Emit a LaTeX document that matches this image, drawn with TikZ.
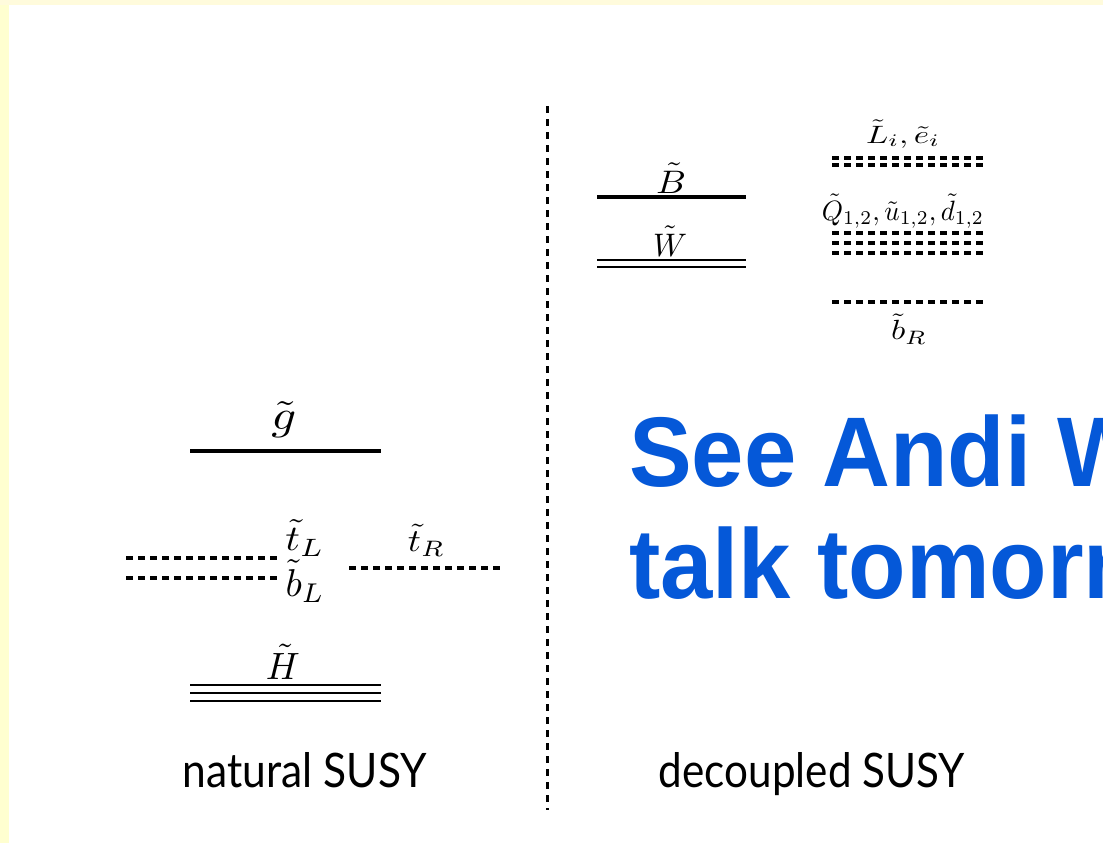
\documentclass[tikz,border=0pt]{standalone}
\usepackage{fontspec}
\usepackage{graphicx}
\setmainfont{Lato}
\newfontfamily\bluefont{Liberation Sans}
\definecolor{slideblue}{RGB}{5,88,216}
\definecolor{bandtop}{RGB}{255,251,220}
\definecolor{bandleft}{RGB}{255,255,208}
\newcommand\mlbl[3]{\resizebox*{#1}{#2}{$#3$}}
\tikzset{
  level/.style={line width=3.2pt},
  thinlevel/.style={line width=2.8pt},
  sqline/.style={line width=3.2pt, dash pattern=on 7.2pt off 4.8pt},
  divider/.style={line width=3pt, dash pattern=on 7pt off 6pt},
  lbl/.style={inner sep=0pt, anchor=center},
  caption/.style={inner sep=0pt, anchor=base},
  bluetext/.style={inner sep=0pt, anchor=base west, text=slideblue,
     font=\bluefont\bfseries\fontsize{99}{112}\selectfont}
}
\begin{document}
\begin{tikzpicture}[x=1pt,y=-1pt]
\useasboundingbox (0,0) rectangle (1103,843);
\clip (0,0) rectangle (1103,843);
\fill[white] (0,0) rectangle (1103,843);
\fill[bandtop] (0,0) rectangle (1103,5);
\fill[bandleft] (0,5) rectangle (9,843);

% divider
\draw[divider] (547,106) -- (547,810);

% natural SUSY side
\draw[level] (190,451) -- (381,451);
\node[lbl] (gl) at (284,420) {\mlbl{25pt}{36pt}{\tilde g}};
\draw[sqline] (126,558) -- (278,558);
\draw[sqline] (126,578) -- (278,578);
\node[lbl] (tL) at (305,538) {\mlbl{39pt}{36pt}{\tilde t_L}};
\node[lbl] (bL) at (305,581) {\mlbl{39pt}{42pt}{\tilde b_L}};
\draw[sqline] (349,568) -- (500,568);
\node[lbl] (tR) at (426.5,540) {\mlbl{37pt}{32pt}{\tilde t_R}};
\draw[thinlevel] (190,685) -- (381,685);
\draw[thinlevel] (190,693) -- (381,693);
\draw[thinlevel] (190,701) -- (381,701);
\node[lbl] (Hs) at (283,662) {\mlbl{34pt}{35pt}{\tilde H}};
\node[caption] (nat) at (305,787) {\resizebox{244pt}{35pt}{natural SUSY}};

% decoupled SUSY side
\draw[level] (597,197) -- (746,197);
\node[lbl] (Bs) at (671,178) {\mlbl{30pt}{30pt}{\tilde B}};
\draw[thinlevel] (597,260) -- (746,260);
\draw[thinlevel] (597,267) -- (746,267);
\node[lbl] (Ws) at (670,241) {\mlbl{34pt}{30pt}{\tilde W}};

\draw[sqline] (832,158) -- (983,158);
\draw[sqline] (832,165) -- (983,165);
\node[lbl] (Le) at (903,134) {\mlbl{74pt}{28pt}{\tilde L_i,\tilde e_i}};
\draw[sqline] (832,233) -- (983,233);
\draw[sqline] (832,243) -- (983,243);
\draw[sqline] (832,253) -- (983,253);
\node[lbl] (Qud) at (903,211) {\mlbl{162pt}{34pt}{\tilde Q_{1,2},\tilde u_{1,2},\tilde d_{1,2}}};
\draw[sqline] (832,302) -- (983,302);
\node[lbl] (bR) at (909,329) {\mlbl{36pt}{30pt}{\tilde b_R}};

\node[caption] (dec) at (812,787) {\resizebox{306pt}{35pt}{decoupled SUSY}};

% blue note
\node[bluetext] (see) at (629,486) {\scalebox{0.95}[1]{See Andi W}};
\node[bluetext] (talk) at (629,598) {\scalebox{0.95}[1]{talk tomorr}};
\end{tikzpicture}
\end{document}
